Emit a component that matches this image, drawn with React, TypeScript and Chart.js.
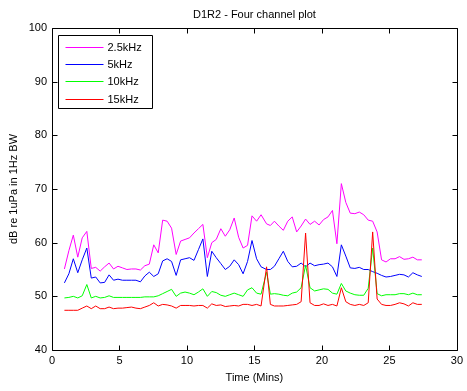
import React, { useEffect, useRef } from "react";
import { Chart, registerables } from "chart.js";

Chart.register(...registerables);

const TITLE = "D1R2 - Four channel plot";
const X_TITLE = "Time (Mins)";
const Y_TITLE = "dB re 1uPa in 1Hz BW";
const SERIES_LABELS = ["2.5kHz", "5kHz", "10kHz", "15kHz"];
const SERIES_COLORS = ["#ff00ff", "#0000ff", "#00ff00", "#ff0000"];
const X_TICKS = [0, 5, 10, 15, 20, 25, 30];
const Y_TICKS = [40, 50, 60, 70, 80, 90, 100];

const TIMES = [
  0.92, 1.25, 1.58, 1.91, 2.24, 2.58, 2.91, 3.24, 3.57, 3.9,
  4.23, 4.56, 4.89, 5.22, 5.55, 5.89, 6.22, 6.55, 6.88, 7.21,
  7.54, 7.87, 8.2, 8.53, 8.86, 9.2, 9.53, 9.86, 10.19, 10.52,
  10.85, 11.18, 11.51, 11.84, 12.17, 12.51, 12.84, 13.17, 13.5, 13.83,
  14.16, 14.49, 14.82, 15.16, 15.49, 15.9, 16.18, 16.48, 16.81, 17.14,
  17.47, 17.8, 18.13, 18.46, 18.79, 19.12, 19.46, 19.79, 20.12, 20.45,
  20.78, 21.11, 21.44, 21.77, 22.1, 22.44, 22.77, 23.1, 23.43, 23.76,
  24.09, 24.42, 24.75, 25.08, 25.42, 25.75, 26.08, 26.41, 26.74, 27.07, 27.4,
];

const V_2_5KHZ = [
  55.1, 58.5, 61.4, 57.3, 60.9, 62.1, 55.2, 55.4, 54.7, 55.5,
  56.2, 55.1, 55.6, 55.3, 55.0, 55.1, 55.1, 54.9, 55.7, 56.0,
  59.6, 58.1, 64.2, 64.0, 62.7, 57.8, 60.3, 60.6, 60.9, 61.8,
  62.6, 63.4, 57.2, 60.0, 60.6, 62.6, 61.2, 62.4, 64.6, 61.0,
  59.0, 59.5, 65.0, 64.0, 65.2, 63.5, 63.2, 64.0, 63.1, 62.3,
  64.0, 64.8, 62.0, 63.1, 64.4, 63.4, 64.0, 63.3, 64.3, 64.8,
  66.0, 59.8, 71.0, 67.5, 65.5, 65.4, 65.7, 65.2, 64.2, 64.0,
  62.0, 56.8, 56.4, 57.0, 57.0, 57.4, 56.9, 57.0, 57.3, 56.8, 56.8,
];

const V_5KHZ = [
  52.5, 54.2, 57.0, 54.4, 56.8, 59.0, 53.4, 53.6, 52.5, 52.6,
  54.0, 53.0, 53.2, 53.0, 53.0, 53.0, 53.0, 52.7, 53.8, 54.5,
  53.7, 54.2, 56.6, 57.0, 56.5, 53.9, 56.8, 57.0, 57.2, 56.7,
  58.7, 60.7, 53.7, 58.4, 57.2, 56.1, 55.0, 55.6, 56.8, 55.9,
  54.2, 56.5, 60.4, 57.0, 55.5, 55.0, 55.0, 55.6, 57.0, 58.4,
  56.5, 55.5, 55.6, 56.2, 55.5, 56.2, 55.7, 55.9, 56.0, 56.2,
  55.5, 53.7, 59.6, 57.5, 55.3, 55.2, 55.4, 55.0, 55.0, 54.6,
  54.3, 53.9, 53.6, 53.7, 53.9, 54.1, 54.0, 53.6, 54.4, 54.0, 53.7,
];

const V_10KHZ = [
  49.7, 49.8, 50.0, 49.7, 50.1, 52.2, 49.7, 50.0, 49.7, 49.8,
  50.1, 49.8, 49.8, 49.8, 49.8, 49.8, 49.8, 49.8, 49.9, 49.9,
  49.9, 50.1, 50.5, 50.9, 51.3, 50.0, 50.6, 50.8, 50.6, 50.3,
  50.8, 51.4, 50.0, 50.9, 50.7, 50.2, 50.0, 50.3, 50.6, 50.3,
  50.0, 51.2, 51.6, 50.6, 50.4, 54.5, 50.4, 50.5, 50.4, 50.2,
  50.1, 50.6, 50.8, 51.6, 55.8, 51.6, 51.0, 51.2, 51.4, 51.3,
  50.6, 50.4, 52.4, 51.0, 50.6, 50.3, 50.2, 50.2, 51.5, 59.0,
  50.5, 50.1, 50.3, 50.3, 50.3, 50.5, 50.5, 50.3, 50.6, 50.3, 50.3,
];

const V_15KHZ = [
  47.4, 47.4, 47.4, 47.4, 47.8, 48.2, 47.7, 48.2, 47.7, 47.7,
  48.0, 47.7, 47.8, 47.8, 47.9, 48.0, 47.8, 47.7, 48.0, 48.3,
  48.8, 48.2, 48.5, 48.4, 48.2, 47.8, 48.3, 48.3, 48.3, 48.2,
  48.3, 48.3, 47.8, 48.6, 48.3, 48.4, 48.1, 48.2, 48.3, 48.2,
  48.5, 48.5, 48.3, 48.5, 48.2, 55.5, 48.5, 48.2, 48.2, 48.2,
  48.3, 48.4, 48.5, 49.0, 61.8, 48.8, 48.3, 48.3, 48.6, 48.3,
  48.5, 48.2, 51.6, 49.0, 48.5, 48.3, 48.5, 48.3, 48.8, 62.0,
  49.5, 48.5, 48.3, 48.3, 48.5, 48.8, 48.6, 48.2, 48.8, 48.5, 48.5,
];

const FONT = "'Liberation Sans', Arial, Helvetica, sans-serif";

const framePlugin = {
  id: "matlabFrame",
  afterDatasetsDraw(chart: any) {
    const { ctx, chartArea: a, scales } = chart;
    const snap = (v: number) => Math.round(v) + 0.5;
    const L = snap(a.left);
    const R = snap(a.right);
    const T = snap(a.top);
    const B = snap(a.bottom);
    const TL = 5;
    ctx.save();
    ctx.strokeStyle = "#000000";
    ctx.lineWidth = 1;
    ctx.beginPath();
    ctx.rect(L, T, R - L, B - T);
    X_TICKS.forEach((v) => {
      const x = snap(scales.x.getPixelForValue(v));
      ctx.moveTo(x, B);
      ctx.lineTo(x, B - TL);
      ctx.moveTo(x, T);
      ctx.lineTo(x, T + TL);
    });
    Y_TICKS.forEach((v) => {
      const y = snap(scales.y.getPixelForValue(v));
      ctx.moveTo(L, y);
      ctx.lineTo(L + TL, y);
      ctx.moveTo(R, y);
      ctx.lineTo(R - TL, y);
    });
    ctx.stroke();

    // legend box inside the plot area (top-left)
    const bx = L + 6;
    const by = T + 7;
    const bw = 94;
    const bh = 73;
    ctx.fillStyle = "#ffffff";
    ctx.fillRect(bx, by, bw, bh);
    ctx.beginPath();
    ctx.rect(bx, by, bw, bh);
    ctx.strokeStyle = "#000000";
    ctx.stroke();
    ctx.font = `11px ${FONT}`;
    ctx.textBaseline = "middle";
    ctx.textAlign = "left";
    SERIES_LABELS.forEach((label, i) => {
      const y = Math.round(by + 11 + i * 17.4) + 0.5;
      ctx.beginPath();
      ctx.strokeStyle = SERIES_COLORS[i];
      ctx.lineWidth = 1;
      ctx.moveTo(bx + 7, y);
      ctx.lineTo(bx + 45, y);
      ctx.stroke();
      ctx.fillStyle = "#000000";
      ctx.fillText(label, bx + 49, y + 0.5);
    });
    ctx.restore();
  },
};

export default function App() {
  const ref = useRef<HTMLCanvasElement>(null);
  useEffect(() => {
    const series = [V_2_5KHZ, V_5KHZ, V_10KHZ, V_15KHZ];
    const chart = new Chart(ref.current as HTMLCanvasElement, {
      type: "line",
      data: {
        datasets: series.map((vals, i) => ({
          label: SERIES_LABELS[i],
          data: TIMES.map((t, j) => ({ x: t, y: vals[j] })),
          borderColor: SERIES_COLORS[i],
          backgroundColor: SERIES_COLORS[i],
          borderWidth: 1,
          pointRadius: 0,
          pointHoverRadius: 0,
          tension: 0,
          fill: false,
          order: 4 - i,
        })),
      },
      options: {
        animation: false,
        responsive: true,
        maintainAspectRatio: false,
        layout: { padding: { left: 0, right: 7, top: 0, bottom: 0 } },
        plugins: {
          legend: { display: false },
          tooltip: { enabled: false },
          title: {
            display: true,
            text: TITLE,
            color: "#000",
            fullSize: false,
            font: { family: FONT, size: 11, weight: "normal" },
            padding: { top: 8, bottom: 6.8 },
          },
        },
        scales: {
          x: {
            type: "linear",
            min: 0,
            max: 30,
            afterFit: (s: any) => {
              s.height = 41;
            },
            afterBuildTicks: (s: any) => {
              s.ticks = X_TICKS.map((v) => ({ value: v }));
            },
            ticks: {
              color: "#000",
              font: { family: FONT, size: 11 },
              padding: 4,
              autoSkip: false,
              maxRotation: 0,
            },
            grid: { display: false, drawTicks: false },
            border: { display: false },
            title: {
              display: true,
              text: X_TITLE,
              color: "#000",
              font: { family: FONT, size: 11 },
              padding: { top: 0, bottom: 6.4 },
            },
          },
          y: {
            type: "linear",
            min: 40,
            max: 100,
            afterFit: (s: any) => {
              s.width = 52;
            },
            afterBuildTicks: (s: any) => {
              s.ticks = Y_TICKS.map((v) => ({ value: v }));
            },
            ticks: {
              color: "#000",
              font: { family: FONT, size: 11 },
              padding: 5,
              autoSkip: false,
            },
            grid: { display: false, drawTicks: false },
            border: { display: false },
            title: {
              display: true,
              text: Y_TITLE,
              color: "#000",
              font: { family: FONT, size: 11 },
              padding: { top: 7.4, bottom: 0 },
            },
          },
        },
      },
      plugins: [framePlugin],
    } as any);
    return () => chart.destroy();
  }, []);
  return (
    <div
      style={{
        position: "absolute",
        left: 0,
        top: 0,
        width: 467,
        height: 391,
        background: "#fff",
      }}
    >
      <canvas ref={ref} />
    </div>
  );
}
